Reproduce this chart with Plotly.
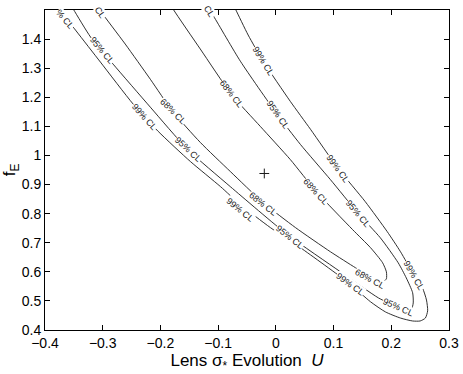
import plotly.graph_objects as go

# contour paths (lower branch from top-left, round the tip, up the upper branch)
cl68_x = [-0.321, -0.304, -0.261, -0.2175, -0.179, -0.131, -0.079, -0.022, 0.034, 0.0945, 0.138, 0.162,
          0.178, 0.186, 0.1915, 0.1915, 0.185, 0.164, 0.133, 0.070, 0.025, -0.027, -0.077, -0.131, -0.178, -0.188]
cl68_y = [1.548, 1.497, 1.383, 1.262, 1.152, 1.045, 0.945, 0.838, 0.752, 0.669, 0.614, 0.586,
          0.569, 0.566, 0.576, 0.600, 0.631, 0.683, 0.745, 0.876, 0.986, 1.100, 1.210, 1.366, 1.503, 1.538]

cl95_x = [-0.367, -0.351, -0.321, -0.282, -0.2175, -0.153, -0.079, 0.020, 0.112, 0.178, 0.207, 0.224,
          0.235, 0.238, 0.237, 0.226, 0.212, 0.181, 0.143, 0.0945, 0.0425, 0.001, -0.0615, -0.108, -0.127]
cl95_y = [1.555, 1.503, 1.407, 1.314, 1.166, 1.021, 0.893, 0.728, 0.600, 0.510, 0.483, 0.472,
          0.472, 0.493, 0.528, 0.579, 0.631, 0.717, 0.800, 0.917, 1.038, 1.145, 1.324, 1.479, 1.538]

cl99_x = [-0.396, -0.346, -0.304, -0.247, -0.204, -0.148, -0.096, -0.0615, -0.0095, 0.0425, 0.126, 0.164,
          0.190, 0.216, 0.237, 0.250, 0.259, 0.263, 0.261, 0.254, 0.238, 0.216, 0.193, 0.155, 0.108,
          0.060, 0.025, -0.022, -0.048, -0.070, -0.079]
cl99_y = [1.555, 1.428, 1.321, 1.176, 1.083, 0.979, 0.893, 0.831, 0.752, 0.683, 0.562, 0.497,
          0.462, 0.441, 0.431, 0.431, 0.441, 0.466, 0.503, 0.545, 0.593, 0.669, 0.738, 0.841, 0.955,
          1.090, 1.186, 1.324, 1.414, 1.503, 1.538]

# contour labels: text, x, y, angle
label_text = ["99% CL", "99% CL", "99% CL", "99% CL", "99% CL", "99% CL", "% CL",
              "95% CL", "95% CL", "95% CL", "95% CL", "95% CL", "95% CL", "CL",
              "68% CL", "68% CL", "68% CL", "68% CL", "68% CL", "CL"]
label_x = [-0.228, -0.0615, 0.128, -0.022, 0.108, 0.240, -0.366,
           -0.302, -0.153, 0.024, 0.211, 0.004, 0.143, -0.115,
           -0.179, -0.022, 0.163, -0.077, 0.070, -0.304]
label_y = [1.131, 0.813, 0.557, 1.324, 0.955, 0.587, 1.469,
           1.362, 1.021, 0.721, 0.478, 1.140, 0.800, 1.493,
           1.152, 0.834, 0.577, 1.210, 0.876, 1.490]
label_angle = [48, 39, 36, 58, 54, 60, 50,
               50, 43, 38, 24, 55, 50, 58,
               45, 38, 28, 52, 48, 55]

best_x = [-0.020]
best_y = [0.938]

fig = go.Figure()
for xs, ys in [(cl68_x, cl68_y), (cl95_x, cl95_y), (cl99_x, cl99_y)]:
    fig.add_trace(go.Scatter(x=xs, y=ys, mode="lines",
                             line=dict(color="#1a1a1a", width=0.9, shape="spline", smoothing=0.6),
                             showlegend=False, hoverinfo="skip"))

fig.add_trace(go.Scatter(x=best_x, y=best_y, mode="markers",
                         marker=dict(symbol="cross-thin", size=7, line=dict(color="#1a1a1a", width=1)),
                         showlegend=False))

for t, x, y, a in zip(label_text, label_x, label_y, label_angle):
    fig.add_annotation(x=x, y=y, text=t, textangle=a, showarrow=False,
                       font=dict(size=9, color="#1a1a1a", family="Liberation Sans, Arial"),
                       bgcolor="white", borderpad=0)

axis_style = dict(showline=True, linecolor="black", linewidth=1, mirror="ticks",
                  ticks="inside", ticklen=5, tickcolor="black", showgrid=False, zeroline=False,
                  tickfont=dict(size=14, color="black"))

fig.update_xaxes(range=[-0.4, 0.3], tickvals=[-0.4, -0.3, -0.2, -0.1, 0, 0.1, 0.2, 0.3],
                 ticktext=["\u22120.4", "\u22120.3", "\u22120.2", "\u22120.1", "0", "0.1", "0.2", "0.3"],
                 title=dict(text="Lens \u03c3<sub>*</sub> Evolution  <i>U</i>", font=dict(size=17, color="black"),
                            standoff=4),
                 **axis_style)
fig.update_yaxes(range=[0.4, 1.5], tickvals=[0.4, 0.5, 0.6, 0.7, 0.8, 0.9, 1.0, 1.1, 1.2, 1.3, 1.4],
                 ticktext=["0.4", "0.5", "0.6", "0.7", "0.8", "0.9", "1", "1.1", "1.2", "1.3", "1.4"],
                 title=dict(text="f<sub>E</sub>", font=dict(size=17, color="black"), standoff=2),
                 **axis_style)

fig.update_layout(width=463, height=374, margin=dict(l=45, r=14, t=10, b=44, autoexpand=False),
                  paper_bgcolor="white", plot_bgcolor="white",
                  font=dict(family="Liberation Sans, Arial, sans-serif"))

# page body has a default 8px margin; drop it so the figure sits at the window's corner
fig.write_html("out.html", config={"displayModeBar": False},
               post_script="document.body.style.margin = '0';")
